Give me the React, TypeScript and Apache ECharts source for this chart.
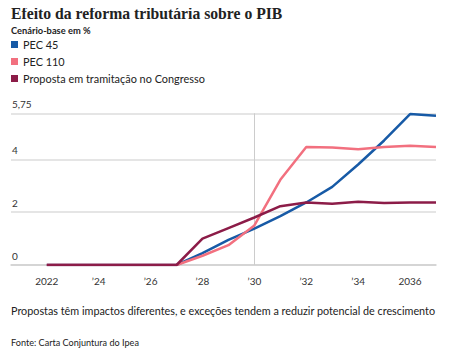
import React, { useEffect, useRef } from "react";
import * as echarts from "echarts";

const years = [2022, 2023, 2024, 2025, 2026, 2027, 2028, 2029, 2030, 2031, 2032, 2033, 2034, 2035, 2036, 2037];
const pec45 = [0, 0, 0, 0, 0, 0, 0.45, 0.95, 1.38, 1.85, 2.37, 2.96, 3.81, 4.72, 5.72, 5.66];
const pec110 = [0, 0, 0, 0, 0, 0, 0.35, 0.75, 1.5, 3.23, 4.47, 4.45, 4.39, 4.47, 4.52, 4.47];
const congresso = [0, 0, 0, 0, 0, 0, 1.0, 1.4, 1.8, 2.23, 2.37, 2.32, 2.4, 2.35, 2.37, 2.37];
const xTicks = [2022, 2024, 2026, 2028, 2030, 2032, 2034, 2036];
const seriesNames = ["PEC 45", "PEC 110", "Proposta em tramitação no Congresso"];
const colors = ["#175aa6", "#f2707f", "#8c1c48"];

const SANS = "Lato, 'Noto Sans', sans-serif";

export default function App() {
  const ref = useRef<HTMLDivElement>(null);
  useEffect(() => {
    if (!ref.current) return;
    const chart = echarts.init(ref.current, null, { renderer: "svg" });
    const all = [pec45, pec110, congresso];
    chart.setOption({
      animation: false,
      backgroundColor: "#ffffff",
      color: colors,
      textStyle: { fontFamily: SANS },
      graphic: [
        {
          type: "text",
          left: 11,
          top: 5,
          style: {
            text: "Efeito da reforma tributária sobre o PIB",
            font: "bold 15.7px 'Liberation Serif', 'DejaVu Serif', serif",
            fill: "#222",
          },
        },
        {
          type: "text",
          left: 11,
          top: 26,
          style: {
            text: "Cenário-base em %",
            font: "bold 9.3px " + SANS,
            fill: "#222",
          },
        },
        {
          type: "text",
          left: 11,
          top: 305,
          style: {
            text: "Propostas têm impactos diferentes, e exceções tendem a reduzir potencial de crescimento",
            font: "10.8px " + SANS,
            fill: "#222",
          },
        },
        {
          type: "text",
          left: 11,
          top: 338,
          style: {
            text: "Fonte: Carta Conjuntura do Ipea",
            font: "9.1px " + SANS,
            fill: "#222",
          },
        },
      ],
      legend: {
        orient: "vertical",
        left: 11,
        top: 37,
        padding: 0,
        itemWidth: 7,
        itemHeight: 7,
        itemGap: 2,
        icon: "rect",
        data: seriesNames,
        textStyle: { fontSize: 10.9, color: "#222", lineHeight: 15, fontFamily: SANS },
      },
      grid: { left: 11, right: 14, top: 113.3, bottom: 91, containLabel: false },
      xAxis: {
        type: "value",
        min: 2020.62,
        max: 2037,
        axisLine: { show: true, lineStyle: { color: "#cfcfcf", width: 1.5 } },
        axisTick: { show: false },
        splitLine: { show: false },
        axisLabel: {
          customValues: xTicks,
          margin: 11,
          fontSize: 10,
          color: "#333",
          fontFamily: SANS,
          formatter: (v: number) =>
            v === 2022 || v === 2036 ? String(v) : "’" + String(v).slice(2),
        },
      },
      yAxis: {
        type: "value",
        min: 0,
        max: 5.75,
        interval: 2,
        axisLine: { show: false },
        axisTick: { show: false },
        splitLine: { show: true, lineStyle: { color: "#dcdcdc", width: 1.5 } },
        axisLabel: {
          inside: true,
          align: "left",
          verticalAlign: "bottom",
          margin: 1,
          padding: [0, 0, 4, 0],
          fontSize: 10,
          color: "#333",
          fontFamily: SANS,
          formatter: (v: number) => String(v).replace(".", ","),
        },
      },
      series: seriesNames.map((name, i) => ({
        name,
        type: "line",
        data: years.map((y, j) => [y, all[i][j]]),
        symbol: "none",
        lineStyle: { width: 2.5, color: colors[i] },
        itemStyle: { color: colors[i] },
        z: 3 + (i === 2 ? 1 : 0),
        ...(i === 0
          ? {
              markLine: {
                silent: true,
                symbol: "none",
                label: { show: false },
                lineStyle: { color: "#cccccc", width: 1, type: "solid" },
                data: [{ xAxis: 2030 }],
                z: 1,
              },
            }
          : {}),
      })),
    });
    return () => chart.dispose();
  }, []);
  return <div ref={ref} style={{ width: 450, height: 356, margin: -8 }} />;
}
